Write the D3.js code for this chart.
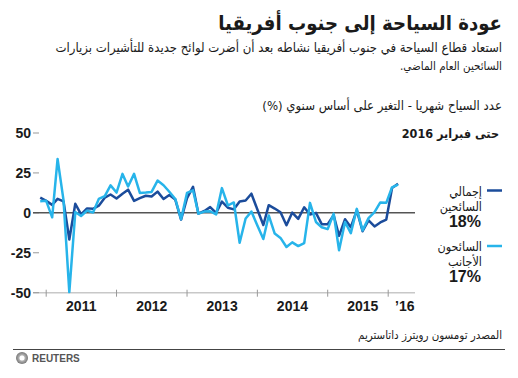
<!DOCTYPE html>
<html>
<head>
<meta charset="utf-8">
<script src="https://cdn.jsdelivr.net/npm/d3@7"></script>
<style>
  body { margin: 0; background: #fff; }
  svg { display: block; }
  text { font-family: "Liberation Sans", "DejaVu Sans", sans-serif; fill: #1a1a1a; }
  text.ar { font-family: "DejaVu Sans Condensed", "DejaVu Sans", sans-serif; }
</style>
</head>
<body>
<svg id="chart" width="518" height="378"></svg>
<script>
// monthly data, year-on-year change in tourist arrivals (%)
var months = ["2010-12","2011-01","2011-02","2011-03","2011-04","2011-05","2011-06","2011-07","2011-08","2011-09","2011-10","2011-11",
  "2011-12","2012-01","2012-02","2012-03","2012-04","2012-05","2012-06","2012-07","2012-08","2012-09","2012-10","2012-11",
  "2012-12","2013-01","2013-02","2013-03","2013-04","2013-05","2013-06","2013-07","2013-08","2013-09","2013-10","2013-11",
  "2013-12","2014-01","2014-02","2014-03","2014-04","2014-05","2014-06","2014-07","2014-08","2014-09","2014-10","2014-11",
  "2014-12","2015-01","2015-02","2015-03","2015-04","2015-05","2015-06","2015-07","2015-08","2015-09","2015-10","2015-11",
  "2015-12","2016-01"];

var totalTourists = [9.5,7.5,5,8.8,7.2,-16.7,5.7,-1,2.8,2.5,4.5,9.5,
  11.5,9,12,14.5,7.5,9.2,10.7,10.2,13.3,8.7,11.2,8.3,
  -4.2,9.2,16.3,-0.5,1.2,3.6,0,7.1,3.2,2.2,7.1,7.7,
  12,2.1,-7.6,4.8,2.7,0.4,-7.8,0.2,-3.75,3.5,-1,0,
  -7.1,-7.1,-1.5,-14.4,-4,-9,1.6,-11.5,-4.7,-8.5,-6,-4.2,
  15.6,18.2];

var foreignTourists = [7.3,7.5,-2.8,33.7,7.8,-49.6,0.5,-2,1.4,0.2,8.7,10.5,
  17.2,12.7,24.4,16.5,24.4,12.5,12.7,13.1,20.2,17.3,13.2,8.7,
  -4,12.5,14.1,-0.5,0.8,1,-1,15.5,4.6,6.5,-18.75,-3.5,
  0.8,-7.9,-16.4,-1.6,-13,-15.7,-21.4,-18.5,-20.8,-19,6.25,-5.7,
  -9,-10.2,-0.5,-23.4,-5.7,-12.7,2.5,-11,-3.3,0.5,6.5,6.25,
  16,17.7];

var yTicks = [50, 25, 0, -25, -50];
var yearTicks = ["2011-01-01","2012-01-01","2013-01-01","2014-01-01","2015-01-01","2015-11-11"];
var yearLabels = [["2011-07-02","2011"],["2012-07-02","2012"],["2013-07-02","2013"],["2014-07-02","2014"],["2015-07-02","2015"],["2016-02-05","\u201916"]];

var seriesNames = ["إجمالي", "السائحين"];
var seriesNames2 = ["السائحون", "الأجانب"];

var darkBlue = "#1b4c9b", lightBlue = "#27b4ea";

var svg = d3.select("#chart");
var parseM = d3.timeParse("%Y-%m");
var parseD = d3.timeParse("%Y-%m-%d");

var x = d3.scaleTime()
  .domain([parseD("2011-01-01"), parseD("2015-01-01")])
  .range([46.2, 327.7]);
var y = d3.scaleLinear().domain([-50, 50]).range([292.7, 133]);

//arabic text, right aligned, font size nudged so the line roughly has the given width
function rtlText(txt, xr, yb, size, weight, width) {
  var t = svg.append("text")
    .attr("class", "ar")
    .attr("x", xr).attr("y", yb)
    .attr("direction", "rtl")
    .attr("text-anchor", "start")
    .style("font-size", size + "px")
    .style("font-weight", weight || "normal")
    .text(txt);
  if (width) {
    var w = t.node().getComputedTextLength();
    if (w > 0) {
      var s = Math.max(size * 0.85, Math.min(size * 1.2, size * width / w));
      t.style("font-size", s + "px");
    }
  }
  return t;
}
rtlText("عودة السياحة إلى جنوب أفريقيا", 502, 30, 22, "bold", 284);
rtlText("استعاد قطاع السياحة في جنوب أفريقيا نشاطه بعد أن أضرت لوائح جديدة للتأشيرات بزيارات", 502, 52, 12.5, "normal", 447);
rtlText("السائحين العام الماضي.", 502, 70, 12.5, "normal", 102);
rtlText("عدد السياح شهريا - التغير على أساس سنوي (%)", 502, 110, 13, "normal", 240);
rtlText("حتى فبراير 2016", 499, 138, 12.5, "bold");

//axes
var g = svg.append("g");

g.append("line")
  .attr("x1", 33).attr("x2", 415)
  .attr("y1", y(-50)).attr("y2", y(-50))
  .attr("stroke", "#c8c8c8").attr("stroke-width", 1.5);

g.selectAll(".xtick").data(yearTicks).enter().append("line")
  .attr("class", "xtick")
  .attr("x1", function(d) { return x(parseD(d)); })
  .attr("x2", function(d) { return x(parseD(d)); })
  .attr("y1", y(-50) - 3).attr("y2", y(-50) + 4)
  .attr("stroke", "#999").attr("stroke-width", 1);

g.selectAll(".xlab").data(yearLabels).enter().append("text")
  .attr("class", "xlab")
  .attr("x", function(d) { return x(parseD(d[0])); })
  .attr("y", 311)
  .attr("text-anchor", "middle")
  .style("font-size", "14px").style("font-weight", "bold")
  .text(function(d) { return d[1]; });

g.selectAll(".ytick").data(yTicks).enter().append("line")
  .attr("class", "ytick")
  .attr("x1", 33).attr("x2", 39)
  .attr("y1", function(d) { return y(d); })
  .attr("y2", function(d) { return y(d); })
  .attr("stroke", "#999").attr("stroke-width", 1);

g.selectAll(".ylab").data(yTicks).enter().append("text")
  .attr("class", "ylab")
  .attr("x", 31)
  .attr("y", function(d) { return y(d) + 5; })
  .attr("text-anchor", "end")
  .style("font-size", "14px").style("font-weight", "bold")
  .text(function(d) { return d; });

// zero line
g.append("line")
  .attr("x1", 33).attr("x2", 415)
  .attr("y1", y(0)).attr("y2", y(0))
  .attr("stroke", "#555").attr("stroke-width", 1.5);

//lines
var line = d3.line()
  .x(function(d, i) { return x(parseM(months[i])); })
  .y(function(d) { return y(d); });

svg.append("path").datum(totalTourists)
  .attr("fill", "none").attr("stroke", darkBlue)
  .attr("stroke-width", 2.5).attr("stroke-linejoin", "round")
  .attr("d", line);

svg.append("path").datum(foreignTourists)
  .attr("fill", "none").attr("stroke", lightBlue)
  .attr("stroke-width", 2.5).attr("stroke-linejoin", "round")
  .attr("d", line);

// legend
var lg = [
  { names: seriesNames, pct: "18%", color: darkBlue, top: 190.5 },
  { names: seriesNames2, pct: "17%", color: lightBlue, top: 246 }
];
lg.forEach(function(l) {
  svg.append("line")
    .attr("x1", 487).attr("x2", 502)
    .attr("y1", l.top).attr("y2", l.top)
    .attr("stroke", l.color).attr("stroke-width", 2.5);
  l.names.forEach(function(n, i) {
    rtlText(n, 482, l.top + 5 + i * 15, 12.5);
  });
  svg.append("text")
    .attr("x", 481).attr("y", l.top + 36)
    .attr("text-anchor", "end")
    .style("font-size", "16px").style("font-weight", "bold")
    .text(l.pct);
});

// footer
rtlText("المصدر تومسون رويترز داتاستريم", 502, 339, 11, "normal", 144);

svg.append("line")
  .attr("x1", 13).attr("x2", 505)
  .attr("y1", 349.5).attr("y2", 349.5)
  .attr("stroke", "#444").attr("stroke-width", 1);

var grad = svg.append("defs").append("radialGradient").attr("id", "lg1");
grad.append("stop").attr("offset", "0%").attr("stop-color", "#eee");
grad.append("stop").attr("offset", "100%").attr("stop-color", "#777");
svg.append("circle").attr("cx", 22).attr("cy", 358).attr("r", 6)
  .attr("fill", "url(#lg1)");
svg.append("circle").attr("cx", 22).attr("cy", 358).attr("r", 2.5)
  .attr("fill", "#fff");

svg.append("text")
  .attr("x", 32).attr("y", 362)
  .style("font-size", "10px").style("font-weight", "bold")
  .style("fill", "#555")
  .text("REUTERS");
</script>
</body>
</html>
